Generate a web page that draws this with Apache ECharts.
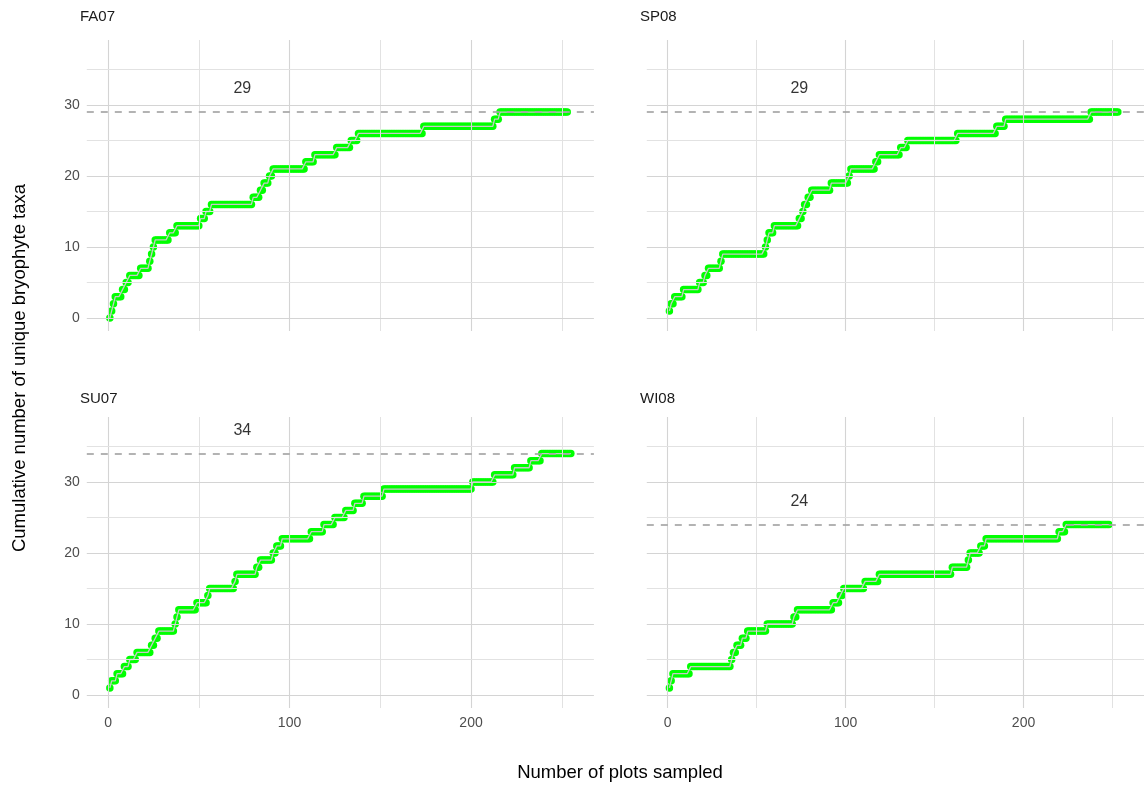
<!DOCTYPE html>
<html>
<head>
<meta charset="utf-8">
<script src="https://cdn.jsdelivr.net/npm/echarts@6/dist/echarts.min.js"></script>
<style>
html,body{margin:0;padding:0;background:#fff;}
#chart{width:1144px;height:786px;}
</style>
</head>
<body>
<div id="chart"></div>
<script>
// Facet names
const facetNames = ['FA07', 'SP08', 'SU07', 'WI08'];
// Number of plots sampled in each facet
const plotCounts = [253, 253, 255, 248];
// Total unique taxa (dashed line and label)
const totals = [29, 29, 34, 24];
const newTaxaFA07 = [2,3,4,8,10,12,18,23,24,25,26,34,38,51,54,57,80,84,86,89,91,109,114,126,134,138,174,213,216];
const newTaxaSP08 = [1,2,4,9,18,21,23,30,31,55,56,57,60,74,76,77,79,81,92,102,103,117,119,131,135,163,185,190,238];
const newTaxaSU07 = [1,2,5,9,12,16,24,26,28,37,38,39,49,55,56,70,71,82,84,91,93,96,112,119,125,131,136,141,152,201,213,224,233,239];
const newTaxaWI08 = [1,2,3,13,36,37,39,42,45,56,71,73,93,97,99,111,119,160,169,170,176,179,220,224];
// Axis ticks
const xTickLabels = [0, 100, 200];
const xMinorGrid = [50, 150, 250];
const yTickLabels = [0, 10, 20, 30];
const yMinorGrid = [5, 15, 25, 35];
const labelX = 74;
const labelOffset = 3.3;

const newTaxa = [newTaxaFA07, newTaxaSP08, newTaxaSU07, newTaxaWI08];

function cumulative(steps, n) {
  const out = [];
  let c = 0, k = 0;
  for (let i = 1; i <= n; i++) {
    while (k < steps.length && steps[k] <= i) { c++; k++; }
    out.push([i, c]);
  }
  return out;
}

const layout = [
  {left: 86.8, right: 550.1, top: 40, height: 291},
  {left: 646.8, right: -9.9, top: 40, height: 291},
  {left: 86.8, right: 550.1, top: 417, height: 291},
  {left: 646.8, right: -9.9, top: 417, height: 291}
];

const FONT = 'Liberation Sans, Arial, sans-serif';
const grids = [], xAxes = [], yAxes = [], series = [];
facetNames.forEach((name, i) => {
  grids.push(Object.assign({containLabel: false}, layout[i]));
  const bottomRow = i >= 2, leftCol = (i % 2) === 0;
  xAxes.push({
    type: 'value', gridIndex: i, min: -11.7, max: 267.7,
    axisLine: {show: false}, axisTick: {show: false}, splitLine: {show: false},
    axisLabel: {show: bottomRow, customValues: xTickLabels, color: '#4d4d4d', fontSize: 14, fontFamily: FONT, margin: 8}
  });
  yAxes.push({
    type: 'value', gridIndex: i, min: -1.83, max: 39.15,
    axisLine: {show: false}, axisTick: {show: false}, splitLine: {show: false},
    axisLabel: {show: leftCol, customValues: yTickLabels, color: '#4d4d4d', fontSize: 14, fontFamily: FONT, margin: 7}
  });
  const gridLines = [];
  xTickLabels.forEach(v => gridLines.push({xAxis: v, lineStyle: {color: '#d4d4d4', width: 1.1, type: 'solid'}}));
  xMinorGrid.forEach(v => gridLines.push({xAxis: v, lineStyle: {color: '#e2e2e2', width: 1, type: 'solid'}}));
  yTickLabels.forEach(v => gridLines.push({yAxis: v, lineStyle: {color: '#d4d4d4', width: 1.1, type: 'solid'}}));
  yMinorGrid.forEach(v => gridLines.push({yAxis: v, lineStyle: {color: '#e2e2e2', width: 1, type: 'solid'}}));
  const data = cumulative(newTaxa[i], plotCounts[i]);
  // gridlines
  series.push({
    type: 'line', xAxisIndex: i, yAxisIndex: i, data: [], z: 1, silent: true,
    markLine: {silent: true, symbol: 'none', label: {show: false}, animation: false, data: gridLines}
  });
  // points
  series.push({
    type: 'scatter', xAxisIndex: i, yAxisIndex: i, data: data, z: 2,
    symbol: 'circle', symbolSize: 7.5, itemStyle: {color: '#00ff00', opacity: 1},
    animation: false, silent: true
  });
  // connecting line
  series.push({
    type: 'line', xAxisIndex: i, yAxisIndex: i, data: data, z: 3,
    showSymbol: false, symbol: 'none', lineStyle: {color: '#c8c8c8', width: 1.3},
    animation: false, silent: true
  });
  // dashed total line + label
  series.push({
    type: 'scatter', xAxisIndex: i, yAxisIndex: i, z: 4,
    data: [[labelX, totals[i] + labelOffset]], symbolSize: 0,
    label: {show: true, position: 'inside', formatter: String(totals[i]), color: '#000', fontSize: 16, fontFamily: FONT},
    markLine: {silent: true, symbol: 'none', label: {show: false}, animation: false,
      data: [{yAxis: totals[i], lineStyle: {color: '#a6a6a6', width: 1.7, type: [7, 7]}}]},
    animation: false, silent: true
  });
});

const chart = echarts.init(document.getElementById('chart'), null, {renderer: 'canvas'});
chart.setOption({
  backgroundColor: '#ffffff',
  animation: false,
  grid: grids, xAxis: xAxes, yAxis: yAxes, series: series,
  graphic: [
    {type: 'text', left: 80, top: 9, style: {text: 'FA07', fontSize: 15, fill: '#1a1a1a', fontFamily: FONT}},
    {type: 'text', left: 640, top: 9, style: {text: 'SP08', fontSize: 15, fill: '#1a1a1a', fontFamily: FONT}},
    {type: 'text', left: 80, top: 391, style: {text: 'SU07', fontSize: 15, fill: '#1a1a1a', fontFamily: FONT}},
    {type: 'text', left: 640, top: 391, style: {text: 'WI08', fontSize: 15, fill: '#1a1a1a', fontFamily: FONT}},
    {type: 'text', x: 620, y: 773, style: {text: 'Number of plots sampled', fontSize: 18.5, fill: '#000', fontFamily: FONT, align: 'center', verticalAlign: 'middle'}},
    {type: 'text', x: 20, y: 368, rotation: Math.PI / 2, style: {text: 'Cumulative number of unique bryophyte taxa', fontSize: 18.5, fill: '#000', fontFamily: FONT, align: 'center', verticalAlign: 'middle'}}
  ]
});
</script>
</body>
</html>
